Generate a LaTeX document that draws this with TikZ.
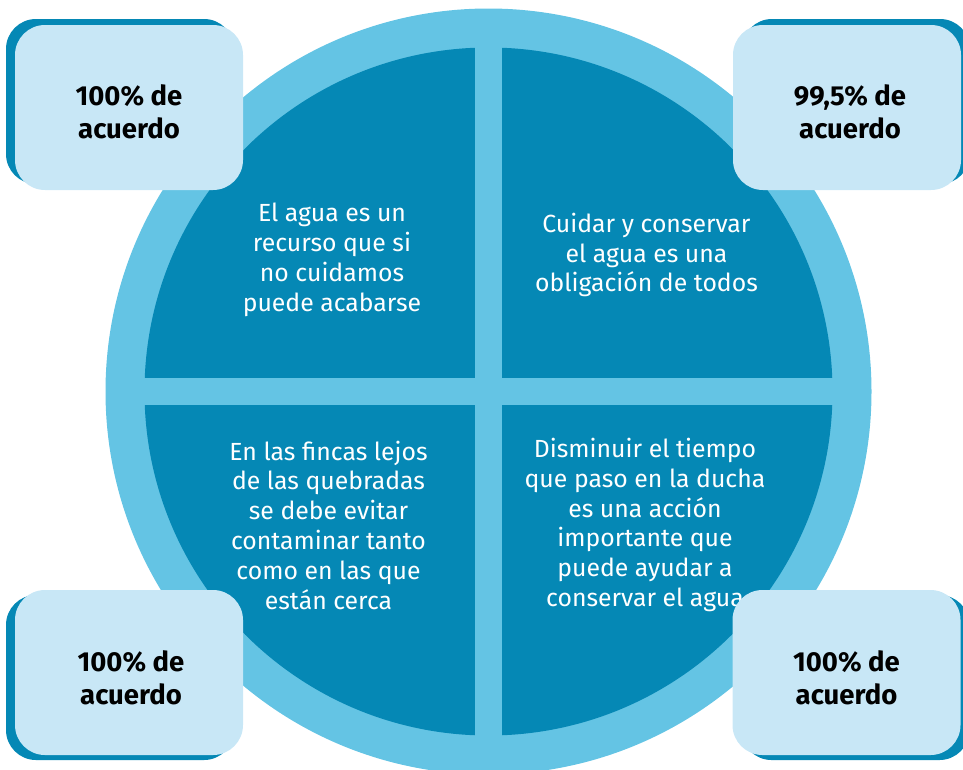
\documentclass[tikz,border=0pt]{standalone}
\usepackage{fontspec}
\setmainfont{Fira Sans}
\definecolor{ringblue}{HTML}{64C4E4}
\definecolor{deepblue}{HTML}{0588B5}
\definecolor{paleblue}{HTML}{C8E7F6}
\begin{document}
\begin{tikzpicture}[x=1pt,y=-1pt,
  quadtext/.style={text=white, align=center, inner sep=0pt, font=\fontsize{24.8}{29.8}\selectfont},
  cardbase/.style={rounded corners=30pt, minimum width=228pt, minimum height=165pt, inner sep=0pt},
  card/.style={cardbase, fill=paleblue},
  cardlabel/.style={text=black, align=center, inner sep=0pt, font=\fontsize{27.5}{32.5}\selectfont\bfseries},
  cardshadow/.style={cardbase, fill=deepblue}]
\useasboundingbox (0,0) rectangle (963,769);
\clip (0,0) rectangle (963,769);
% ring and quadrants
\fill[ringblue] (488.5,391.5) circle[radius=383pt];
\fill[deepblue] (488.5,391.5) circle[radius=344pt];
\fill[ringblue] (475,40) rectangle (502,745);
\fill[ringblue] (135,378) rectangle (845,405);
% quadrant texts
\node[quadtext] (q1) at (332,260) {El agua es un\\recurso que si\\no cuidamos\\puede acabarse};
\node[quadtext] (q2) at (646.5,255) {Cuidar y conservar\\el agua es una\\obligación de todos};
\node[quadtext] (q3) at (328.5,525) {En las fincas lejos\\de las quebradas\\se debe evitar\\contaminar tanto\\como en las que\\están cerca};
\node[quadtext] (q4) at (645,525) {Disminuir el tiempo\\que paso en la ducha\\es una acción\\importante que\\puede ayudar a\\conservar el agua};
% cards
\node[cardshadow] (s1) at (120,101.5) {};
\node[card] (b1) at (129,107.5) {};
\node[cardlabel] (t1) at (129,112) {100\% de\\acuerdo};
\node[cardshadow] (s2) at (856,101.5) {};
\node[card] (b2) at (847,107.5) {};
\node[cardlabel] (t2) at (850,112) {99,5\% de\\acuerdo};
\node[cardshadow] (s3) at (120,677.5) {};
\node[card] (b3) at (129,672.5) {};
\node[cardlabel] (t3) at (131,678) {100\% de\\acuerdo};
\node[cardshadow] (s4) at (855.5,677.5) {};
\node[card] (b4) at (846.5,672.5) {};
\node[cardlabel] (t4) at (846.5,678) {100\% de\\acuerdo};
\end{tikzpicture}
\end{document}
